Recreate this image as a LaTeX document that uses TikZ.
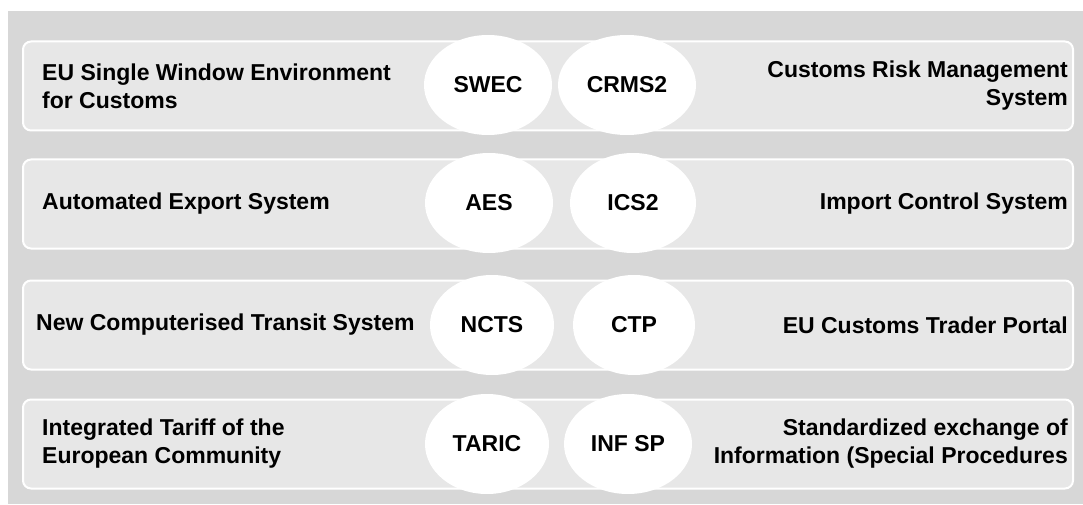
\documentclass[tikz,border=0pt]{standalone}
\usepackage{fontspec}
\setmainfont{Liberation Sans}
\usetikzlibrary{positioning,shapes.geometric}

\definecolor{backgray}{HTML}{D7D7D7}
\definecolor{stripgray}{HTML}{E7E7E7}

\tikzset{
  strip/.style={draw=white, line width=2pt, fill=stripgray, rounded corners=8pt,
    minimum width=1050pt, minimum height=89pt, inner sep=0pt},
  oval/.style={ellipse, fill=white, minimum height=100pt, inner sep=0pt},
  lefttext/.style={align=left, inner sep=0pt},
  righttext/.style={align=right, inner sep=0pt},
}

\begin{document}
\begin{tikzpicture}[x=1pt, y=1pt, font=\fontsize{23}{28}\selectfont\bfseries]
  \useasboundingbox (0,0) rectangle (1083,504);
  \fill[backgray] (8,0) rectangle (1083,493);

  % rows
  \node[strip] (row1) at (548,418) {};
  \node[strip] (row2) at (548,300) {};
  \node[strip] (row3) at (548,179) {};
  \node[strip] (row4) at (548,60) {};

  \node[lefttext, right=20pt of row1.west] (swectext)
    {EU Single Window Environment\\for Customs};
  \node[righttext, left=6pt of row1.east] (crmstext)
    {Customs Risk Management\\System};
  \node[lefttext, right=20pt of row2.west] (aestext) {Automated Export System};
  \node[righttext, left=6pt of row2.east] (icstext) {Import Control System};
  \node[lefttext, right=14pt of row3.west] (nctstext)
    {New Computerised Transit System};
  \node[righttext, left=6pt of row3.east] (ctptext) {EU Customs Trader Portal};
  \node[lefttext, right=20pt of row4.west] (tarictext)
    {Integrated Tariff of the\\European Community};
  \node[righttext, left=6pt of row4.east] (infsptext)
    {Standardized exchange of\\Information (Special Procedures};

  % abbreviations
  \node[oval, minimum width=128pt] (swec) at (488,419) {SWEC};
  \node[oval, minimum width=138pt] (crms) at (627,419) {CRMS2};
  \node[oval, minimum width=128pt] (aes) at (489,301) {AES};
  \node[oval, minimum width=126pt] (ics) at (633,301) {ICS2};
  \node[oval, minimum width=124pt] (ncts) at (492,179) {NCTS};
  \node[oval, minimum width=122pt] (ctp) at (634,179) {CTP};
  \node[oval, minimum width=124pt] (taric) at (487,60) {TARIC};
  \node[oval, minimum width=128pt] (infsp) at (628,60) {INF SP};
\end{tikzpicture}
\end{document}
